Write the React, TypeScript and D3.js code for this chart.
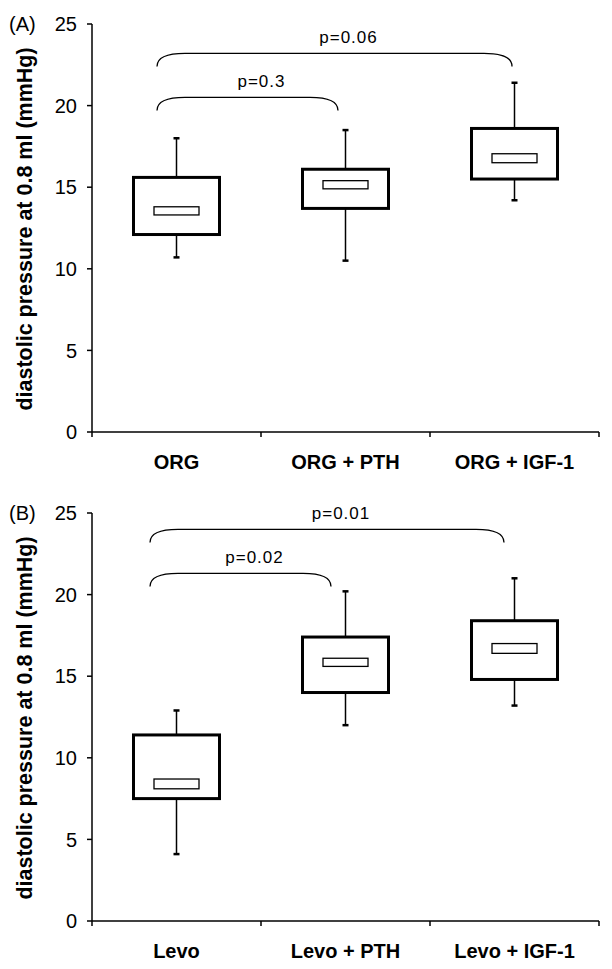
import React from "react";
import * as d3 from "d3";

// panel A
const categoriesA = ["ORG", "ORG + PTH", "ORG + IGF-1"];
const whiskerLowA = [10.7, 10.5, 14.2];
const q1A = [12.1, 13.7, 15.5];
const midLowA = [13.3, 14.9, 16.5];
const midHighA = [13.8, 15.4, 17.05];
const q3A = [15.6, 16.1, 18.6];
const whiskerHighA = [18.0, 18.5, 21.4];
const pLabelsA = ["p=0.3", "p=0.06"];
const pToA = [1, 2];
const pTopA = [20.5, 23.2];
const pEndA = [19.7, 22.4];

// panel B
const categoriesB = ["Levo", "Levo + PTH", "Levo + IGF-1"];
const whiskerLowB = [4.1, 12.0, 13.2];
const q1B = [7.5, 14.0, 14.8];
const midLowB = [8.1, 15.6, 16.4];
const midHighB = [8.7, 16.1, 17.0];
const q3B = [11.4, 17.4, 18.4];
const whiskerHighB = [12.9, 20.2, 21.0];
const pLabelsB = ["p=0.02", "p=0.01"];
const pToB = [1, 2];
const pTopB = [21.3, 24.0];
const pEndB = [20.5, 23.2];

const yTicks = [0, 5, 10, 15, 20, 25];
const yTitle = "diastolic pressure at 0.8 ml (mmHg)";
const FONT = "'Liberation Sans', Arial, Helvetica, sans-serif";

type PanelProps = {
  letter: string;
  top: number;
  cats: string[];
  wLow: number[];
  q1: number[];
  mLow: number[];
  mHigh: number[];
  q3: number[];
  wHigh: number[];
  pLabels: string[];
  pTo: number[];
  pTop: number[];
  pEnd: number[];
  leftInset: number;
  rightInsets: number[];
};

function Panel(props: PanelProps) {
  const left = 92;
  const right = 599;
  const plotH = 408;
  const top = props.top;
  const bottom = top + plotH;

  const x = d3.scaleBand<string>().domain(props.cats).range([left, right]).padding(0);
  const y = d3.scaleLinear().domain([0, 25]).range([bottom, top]);
  const bw = x.bandwidth();
  const boxW = 86;
  const midW = 45;
  const capW = 6;

  const boxes = props.cats.map((c, i) => {
    const cx = (x(c) ?? 0) + bw / 2;
    return (
      <g key={c}>
        <line x1={cx} x2={cx} y1={y(props.wHigh[i])} y2={y(props.q3[i])} stroke="#000" strokeWidth={1.5} />
        <line x1={cx} x2={cx} y1={y(props.q1[i])} y2={y(props.wLow[i])} stroke="#000" strokeWidth={1.5} />
        <line x1={cx - capW / 2} x2={cx + capW / 2} y1={y(props.wHigh[i])} y2={y(props.wHigh[i])} stroke="#000" strokeWidth={2.5} />
        <line x1={cx - capW / 2} x2={cx + capW / 2} y1={y(props.wLow[i])} y2={y(props.wLow[i])} stroke="#000" strokeWidth={2.5} />
        <rect
          x={cx - boxW / 2}
          y={y(props.q3[i])}
          width={boxW}
          height={y(props.q1[i]) - y(props.q3[i])}
          fill="#fff"
          stroke="#000"
          strokeWidth={3}
        />
        <rect
          x={cx - midW / 2}
          y={y(props.mHigh[i])}
          width={midW}
          height={y(props.mLow[i]) - y(props.mHigh[i])}
          fill="#fff"
          stroke="#000"
          strokeWidth={1.3}
        />
      </g>
    );
  });

  const brackets = props.pLabels.map((lab, i) => {
    const x1 = (x(props.cats[0]) ?? 0) + bw / 2 - props.leftInset;
    const x2 = (x(props.cats[props.pTo[i]]) ?? 0) + bw / 2 - props.rightInsets[i];
    const yt = y(props.pTop[i]);
    const ye = y(props.pEnd[i]);
    const r = 28;
    const path = d3.path();
    path.moveTo(x1, ye);
    path.quadraticCurveTo(x1, yt, x1 + r, yt);
    path.lineTo(x2 - r, yt);
    path.quadraticCurveTo(x2, yt, x2, ye);
    return (
      <g key={lab}>
        <path d={path.toString()} fill="none" stroke="#000" strokeWidth={1.3} />
        <text
          x={(x1 + x2) / 2 + 14}
          y={yt - 10}
          textAnchor="middle"
          fontSize={17}
          fontFamily={FONT}
          letterSpacing={1}
        >
          {lab}
        </text>
      </g>
    );
  });

  const xEdges = [0, 1, 2, 3].map((k) => left + k * bw);

  return (
    <g>
      <text x={9} y={top + 7} fontSize={20} fontFamily={FONT}>
        {props.letter}
      </text>
      <text
        transform={`translate(32,${(top + bottom) / 2 + 1}) rotate(-90)`}
        textAnchor="middle"
        fontSize={21.5}
        fontWeight="bold"
        fontFamily={FONT}
      >
        {yTitle}
      </text>
      {yTicks.map((t) => (
        <g key={t}>
          <line x1={left - 5} x2={left} y1={y(t)} y2={y(t)} stroke="#000" strokeWidth={1.5} />
          <text x={77} y={y(t)} dy="0.36em" textAnchor="end" fontSize={20} fontFamily={FONT}>
            {t}
          </text>
        </g>
      ))}
      <line x1={left} x2={left} y1={top} y2={bottom} stroke="#000" strokeWidth={1.5} />
      <line x1={left} x2={right} y1={bottom} y2={bottom} stroke="#000" strokeWidth={1.5} />
      {xEdges.map((ex, k) => (
        <line key={k} x1={ex} x2={ex} y1={bottom} y2={bottom + 5} stroke="#000" strokeWidth={1.5} />
      ))}
      {props.cats.map((c) => (
        <text
          key={c}
          x={(x(c) ?? 0) + bw / 2}
          y={bottom + 37}
          textAnchor="middle"
          fontSize={20}
          fontWeight="bold"
          fontFamily={FONT}
        >
          {c}
        </text>
      ))}
      {boxes}
      {brackets}
    </g>
  );
}

export default function App() {
  return (
    <svg
      width={612}
      height={969}
      style={{ position: "absolute", left: 0, top: 0, background: "#fff" }}
    >
      <rect width={612} height={969} fill="#fff" />
      <Panel
        letter="(A)"
        top={24}
        cats={categoriesA}
        wLow={whiskerLowA}
        q1={q1A}
        mLow={midLowA}
        mHigh={midHighA}
        q3={q3A}
        wHigh={whiskerHighA}
        pLabels={pLabelsA}
        pTo={pToA}
        pTop={pTopA}
        pEnd={pEndA}
        leftInset={19.5}
        rightInsets={[7.5, 2.5]}
      />
      <Panel
        letter="(B)"
        top={513}
        cats={categoriesB}
        wLow={whiskerLowB}
        q1={q1B}
        mLow={midLowB}
        mHigh={midHighB}
        q3={q3B}
        wHigh={whiskerHighB}
        pLabels={pLabelsB}
        pTo={pToB}
        pTop={pTopB}
        pEnd={pEndB}
        leftInset={26.5}
        rightInsets={[14.5, 10.5]}
      />
    </svg>
  );
}
